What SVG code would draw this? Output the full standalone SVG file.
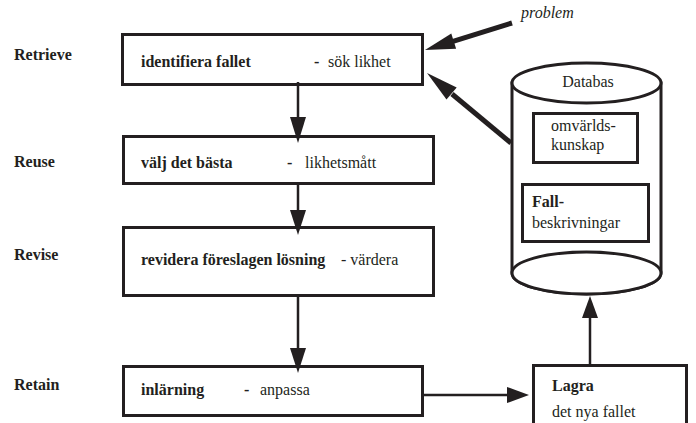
<svg xmlns="http://www.w3.org/2000/svg" width="696" height="423" viewBox="0 0 696 423" font-family="'Liberation Serif', 'DejaVu Serif', serif">
<style>
text{font-family:'Liberation Serif','DejaVu Serif',serif;font-size:16px;fill:#231f20}
.b{font-weight:bold}
.box{fill:#fff;stroke:#231f20;stroke-width:3}
.ln{stroke:#231f20;stroke-width:2.5;fill:none}
.th{stroke:#231f20;stroke-width:5;fill:none}
.hd{fill:#231f20;stroke:none}
</style>
<rect width="696" height="423" fill="#fff"/>
<g id="labels">
<text class="b" x="14" y="60">Retrieve</text>
<text class="b" x="14" y="167">Reuse</text>
<text class="b" x="14" y="260">Revise</text>
<text class="b" x="14" y="390">Retain</text>
<text x="521" y="18" font-style="italic">problem</text>
</g>
<g id="database">
<path class="box" d="M512,83 L512,273 A74.5,21 0 0 0 661,273 L661,83 Z" stroke-width="2.5"/>
<ellipse class="box" cx="586.5" cy="83" rx="74.5" ry="20" stroke-width="2.5"/>
<ellipse class="box" cx="586.5" cy="273" rx="74.5" ry="21" stroke-width="2.5"/>
<text x="588" y="87" text-anchor="middle">Databas</text>
</g>
<g id="omvarld">
<rect class="box" x="533.5" y="113.5" width="104" height="49"/>
<text x="551" y="131">omvärlds-</text>
<text x="551" y="150">kunskap</text>
</g>
<g id="fall">
<rect class="box" x="522.5" y="184.5" width="126" height="57"/>
<text class="b" x="532" y="207">Fall-</text>
<text x="532" y="228">beskrivningar</text>
</g>
<g id="retrieve">
<rect class="box" x="122.5" y="34.5" width="300" height="50"/>
<text class="b" x="141" y="67">identifiera fallet</text>
<text class="b" x="314" y="67">-</text>
<text x="328" y="67">sök likhet</text>
</g>
<g id="reuse">
<rect class="box" x="123.5" y="136.5" width="310" height="47"/>
<text class="b" x="141" y="168">välj det bästa</text>
<text class="b" x="287" y="168">-</text>
<text x="305" y="168">likhetsmått</text>
</g>
<g id="revise">
<rect class="box" x="123.5" y="227.5" width="310" height="68"/>
<text class="b" x="141" y="265">revidera föreslagen lösning</text>
<text x="341" y="265">- värdera</text>
</g>
<g id="retain">
<rect class="box" x="123.5" y="366.5" width="299" height="49"/>
<text class="b" x="141" y="395">inlärning</text>
<text class="b" x="244" y="395">-</text>
<text x="260" y="395">anpassa</text>
</g>
<g id="lagra">
<rect class="box" x="533.5" y="365.5" width="153" height="70"/>
<text class="b" x="552" y="391">Lagra</text>
<text x="552" y="417">det nya fallet</text>
</g>
<g id="connectors">
<line class="ln" x1="298" y1="82" x2="298" y2="118"/>
<polygon class="hd" points="290,117 306,117 298,143"/>
<line class="ln" x1="298" y1="183" x2="298" y2="211"/>
<polygon class="hd" points="290,210 306,210 298,235"/>
<line class="ln" x1="298" y1="295" x2="298" y2="349"/>
<polygon class="hd" points="290,348 306,348 298,373"/>
<line class="ln" x1="424" y1="395" x2="508" y2="395"/>
<polygon class="hd" points="507,387 507,403 529,395"/>
<line class="ln" x1="590" y1="364" x2="590" y2="317"/>
<polygon class="hd" points="582,318 598,318 590,296"/>
<line class="th" x1="512" y1="23" x2="453" y2="41.3"/>
<polygon class="hd" points="456.1,48.8 451.3,33.5 425,50"/>
<line class="th" x1="511" y1="143" x2="452" y2="94"/>
<polygon class="hd" points="456.7,87.4 446.5,99.6 427,73"/>
</g>
</svg>
